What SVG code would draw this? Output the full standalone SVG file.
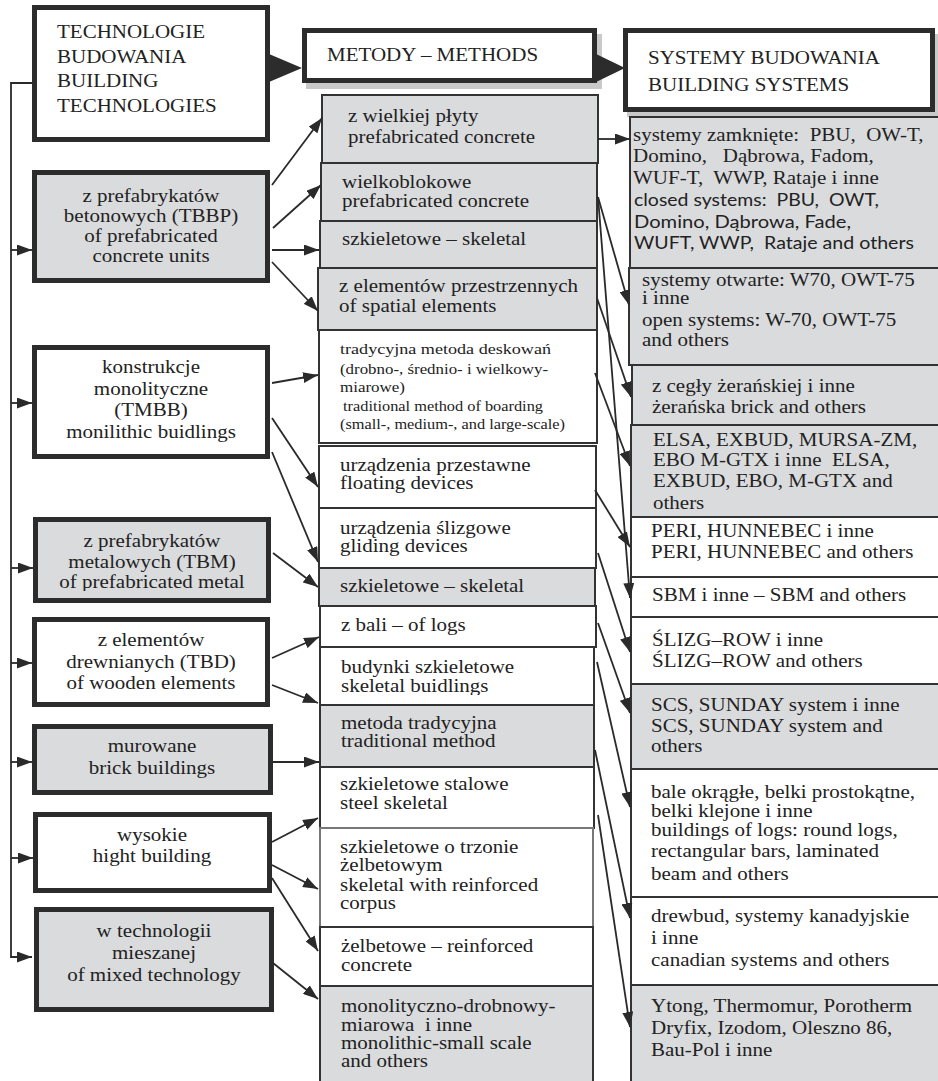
<svg xmlns="http://www.w3.org/2000/svg" width="938" height="1081" viewBox="0 0 938 1081">
<style>
.bg{fill:#ffffff}
.thick{stroke:#2c2c2c;stroke-width:5;fill:#ffffff}
.thick.g{fill:#dadbdd}
.thin{stroke:#333333;stroke-width:2;fill:#ffffff}
.thin.g{fill:#dadbdd}
.t{font-family:"Liberation Serif","Times New Roman",serif;font-size:21px;fill:#222222}
.c{text-anchor:middle}
.s{font-family:Lato,"Open Sans",sans-serif;font-size:19px;fill:#222222}
.k{font-family:"Liberation Serif",serif;font-size:18px;fill:#222222}
.t,.s,.k{transform-box:fill-box;transform-origin:center;transform:scaleY(0.86)}
.ln{stroke:#2a2a2a;stroke-width:1.8;fill:none}
.shadow{fill:#c9c9c9}
</style>
<defs>
<marker id="ah" viewBox="0 0 15 11" refX="15" refY="5.5" markerWidth="15" markerHeight="11" markerUnits="userSpaceOnUse" orient="auto">
<path d="M0,0 L15,5.5 L0,11 z" fill="#2a2a2a"/>
</marker>
<clipPath id="clipMetal"><rect x="36" y="522" width="230" height="69"/></clipPath>
<clipPath id="clipM10"><rect x="321" y="648" width="272" height="47"/></clipPath>
</defs>
<rect class="bg" x="0" y="0" width="938" height="1081"/>

<!-- header shadows -->
<rect class="shadow" x="306" y="34" width="296" height="55"/>
<rect class="shadow" x="627" y="34" width="311" height="83"/>

<!-- Header nodes -->
<g id="n-technologie">
<rect class="thick" x="34.5" y="7.5" width="233" height="132"/>
<text class="t" x="57" y="39">TECHNOLOGIE</text>
<text class="t" x="57" y="64">BUDOWANIA</text>
<text class="t" x="57" y="88">BUILDING</text>
<text class="t" x="57" y="113">TECHNOLOGIES</text>
</g>
<g id="n-metody">
<rect class="thick" x="304.5" y="30.5" width="290" height="50"/>
<text class="t" x="327" y="62">METODY – METHODS</text>
</g>
<g id="n-systemy">
<rect class="thick" x="625.5" y="30.5" width="307" height="79"/>
<text class="t" x="648" y="65">SYSTEMY BUDOWANIA</text>
<text class="t" x="648" y="92">BUILDING SYSTEMS</text>
</g>

<!-- Left column -->
<g id="n-tbbp">
<rect class="thick g" x="34.5" y="172.5" width="233" height="108"/>
<text class="t c" x="151" y="203">z prefabrykatów</text>
<text class="t c" x="151" y="223">betonowych (TBBP)</text>
<text class="t c" x="151" y="243">of prefabricated</text>
<text class="t c" x="151" y="263">concrete units</text>
</g>
<g id="n-tmbb">
<rect class="thick" x="34.5" y="347.5" width="233" height="109"/>
<text class="t c" x="151" y="374">konstrukcje</text>
<text class="t c" x="151" y="396">monolityczne</text>
<text class="t c" x="151" y="417">(TMBB)</text>
<text class="t c" x="151" y="439">monilithic buidlings</text>
</g>
<g id="n-tbm">
<rect class="thick g" x="35.5" y="519.5" width="233" height="81"/>
<g clip-path="url(#clipMetal)">
<text class="t c" x="152" y="548">z prefabrykatów</text>
<text class="t c" x="152" y="569">metalowych (TBM)</text>
<text class="t c" x="152" y="589">of prefabricated metal</text>
</g>
</g>
<g id="n-tbd">
<rect class="thick" x="34.5" y="619.5" width="233" height="85"/>
<text class="t c" x="151" y="647">z elementów</text>
<text class="t c" x="151" y="669">drewnianych (TBD)</text>
<text class="t c" x="151" y="690">of wooden elements</text>
</g>
<g id="n-murowane">
<rect class="thick g" x="34.5" y="726.5" width="236" height="66"/>
<text class="t c" x="152" y="753">murowane</text>
<text class="t c" x="152" y="775">brick buildings</text>
</g>
<g id="n-wysokie">
<rect class="thick" x="35.5" y="814.5" width="234" height="76"/>
<text class="t c" x="152" y="842">wysokie</text>
<text class="t c" x="152" y="863">hight building</text>
</g>
<g id="n-mieszana">
<rect class="thick g" x="36.5" y="909.5" width="235" height="100"/>
<text class="t c" x="154" y="938">w technologii</text>
<text class="t c" x="154" y="960">mieszanej</text>
<text class="t c" x="154" y="982">of mixed technology</text>
</g>

<!-- Middle column -->
<g id="m-plyta">
<rect class="thin g" x="322" y="95" width="276" height="68"/>
<text class="t" x="348" y="123">z wielkiej płyty</text>
<text class="t" x="348" y="144">prefabricated concrete</text>
</g>
<g id="m-wielkoblokowe">
<rect class="thin g" x="321" y="163" width="276" height="58"/>
<text class="t" x="342" y="189">wielkoblokowe</text>
<text class="t" x="342" y="208">prefabricated concrete</text>
</g>
<g id="m-szkiel1">
<rect class="thin g" x="320" y="221" width="277" height="47"/>
<text class="t" x="342" y="246">szkieletowe – skeletal</text>
</g>
<g id="m-przestrzenne">
<rect class="thin g" x="318" y="268" width="279" height="62"/>
<text class="t" x="339" y="293">z elementów przestrzennych</text>
<text class="t" x="339" y="313">of spatial elements</text>
</g>
<g id="m-deskowania">
<rect class="thin" x="319" y="330" width="278" height="113"/>
<text class="k" x="340" y="355" textLength="211" lengthAdjust="spacingAndGlyphs">tradycyjna metoda deskowań</text>
<text class="k" x="340" y="375" textLength="208" lengthAdjust="spacingAndGlyphs">(drobno-, średnio- i wielkowy-</text>
<text class="k" x="340" y="393" textLength="65" lengthAdjust="spacingAndGlyphs">miarowe)</text>
<text class="k" x="343" y="412" textLength="200" lengthAdjust="spacingAndGlyphs">traditional method of boarding</text>
<text class="k" x="340" y="430" textLength="225" lengthAdjust="spacingAndGlyphs">(small-, medium-, and large-scale)</text>
</g>
<g id="m-przestawne">
<rect class="thin" x="319" y="446" width="277" height="62"/>
<text class="t" x="340" y="472">urządzenia przestawne</text>
<text class="t" x="340" y="490">floating devices</text>
</g>
<g id="m-slizgowe">
<rect class="thin" x="319" y="508" width="277" height="60"/>
<text class="t" x="340" y="535">urządzenia ślizgowe</text>
<text class="t" x="340" y="553">gliding devices</text>
</g>
<g id="m-szkiel2">
<rect class="thin g" x="319" y="568" width="276" height="38"/>
<text class="t" x="340" y="593">szkieletowe – skeletal</text>
</g>
<g id="m-bali">
<rect class="thin" x="320" y="606" width="276" height="41"/>
<text class="t" x="341" y="632">z bali – of logs</text>
</g>
<g id="m-budynki">
<rect class="thin" x="320" y="647" width="274" height="58"/>
<g clip-path="url(#clipM10)">
<text class="t" x="341" y="674">budynki szkieletowe</text>
<text class="t" x="341" y="693">skeletal buidlings</text>
</g>
</g>
<g id="m-tradycyjna">
<rect class="thin g" x="320" y="705" width="274" height="62"/>
<text class="t" x="341" y="730">metoda tradycyjna</text>
<text class="t" x="341" y="748">traditional method</text>
</g>
<g id="m-stalowe">
<rect class="thin" x="320" y="767" width="274" height="61"/>
<text class="t" x="340" y="791">szkieletowe stalowe</text>
<text class="t" x="340" y="810">steel skeletal</text>
</g>
<g id="m-trzon">
<rect x="320" y="828" width="273" height="99" fill="#ffffff" stroke="#777777" stroke-width="2"/>
<text class="t" x="340" y="854">szkieletowe o trzonie</text>
<text class="t" x="340" y="872">żelbetowym</text>
<text class="t" x="340" y="892">skeletal with reinforced</text>
<text class="t" x="340" y="910">corpus</text>
</g>
<g id="m-zelbetowe">
<rect class="thin" x="320" y="927" width="273" height="59"/>
<text class="t" x="341" y="953">żelbetowe – reinforced</text>
<text class="t" x="341" y="972">concrete</text>
</g>
<g id="m-monolityczno">
<rect class="thin g" x="320" y="986" width="273" height="110"/>
<text class="t" x="341" y="1013">monolityczno-drobnowy-</text>
<text class="t" x="341" y="1032" xml:space="preserve">miarowa  i inne</text>
<text class="t" x="341" y="1050">monolithic-small scale</text>
<text class="t" x="341" y="1068">and others</text>
</g>

<!-- Right column -->
<g id="r-zamkniete">
<rect class="thin g" x="630" y="117" width="310" height="151"/>
<text class="t" x="633" y="142" xml:space="preserve">systemy zamknięte:  PBU,  OW-T,</text>
<text class="t" x="633" y="163" xml:space="preserve">Domino,   Dąbrowa, Fadom,</text>
<text class="t" x="633" y="185" xml:space="preserve">WUF-T,  WWP, Rataje i inne</text>
<text class="s" x="634" y="207" textLength="245" lengthAdjust="spacingAndGlyphs" xml:space="preserve">closed systems:  PBU,  OWT,</text>
<text class="s" x="634" y="229" textLength="217" lengthAdjust="spacingAndGlyphs">Domino, Dąbrowa, Fade,</text>
<text class="s" x="634" y="250" textLength="280" lengthAdjust="spacingAndGlyphs" xml:space="preserve">WUFT, WWP,  Rataje and others</text>
</g>
<g id="r-otwarte">
<rect class="thin g" x="629" y="268" width="311" height="97"/>
<text class="t" x="642" y="287">systemy otwarte: W70, OWT-75</text>
<text class="t" x="642" y="305">i inne</text>
<text class="t" x="642" y="327">open systems: W-70, OWT-75</text>
<text class="t" x="642" y="347">and others</text>
</g>
<g id="r-cegla">
<rect class="thin g" x="632" y="365" width="308" height="60"/>
<text class="t" x="652" y="393">z cegły żerańskiej i inne</text>
<text class="t" x="652" y="414">żerańska brick and others</text>
</g>
<g id="r-elsa">
<rect class="thin g" x="631" y="425" width="309" height="92"/>
<text class="t" x="653" y="447">ELSA, EXBUD, MURSA-ZM,</text>
<text class="t" x="653" y="467" xml:space="preserve">EBO M-GTX i inne  ELSA,</text>
<text class="t" x="653" y="488">EXBUD, EBO, M-GTX and</text>
<text class="t" x="653" y="510">others</text>
</g>
<g id="r-peri">
<rect class="thin" x="631" y="517" width="309" height="60"/>
<text class="t" x="651" y="538">PERI, HUNNEBEC i inne</text>
<text class="t" x="651" y="559">PERI, HUNNEBEC and others</text>
</g>
<g id="r-sbm">
<rect class="thin" x="631" y="577" width="309" height="40"/>
<text class="t" x="652" y="602">SBM i inne – SBM and others</text>
</g>
<g id="r-slizg">
<rect class="thin" x="631" y="617" width="309" height="67"/>
<text class="t" x="652" y="647">ŚLIZG–ROW i inne</text>
<text class="t" x="652" y="668">ŚLIZG–ROW and others</text>
</g>
<g id="r-scs">
<rect class="thin g" x="631" y="684" width="309" height="85"/>
<text class="t" x="651" y="712">SCS, SUNDAY system i inne</text>
<text class="t" x="651" y="733">SCS, SUNDAY system and</text>
<text class="t" x="651" y="753">others</text>
</g>
<g id="r-bale">
<rect class="thin" x="631" y="769" width="309" height="128"/>
<text class="t" x="651" y="799">bale okrągłe, belki prostokątne,</text>
<text class="t" x="651" y="818">belki klejone i inne</text>
<text class="t" x="651" y="837">buildings of logs: round logs,</text>
<text class="t" x="651" y="858">rectangular bars, laminated</text>
<text class="t" x="651" y="881">beam and others</text>
</g>
<g id="r-drewbud">
<rect class="thin" x="631" y="897" width="309" height="88"/>
<text class="t" x="651" y="923">drewbud, systemy kanadyjskie</text>
<text class="t" x="651" y="945">i inne</text>
<text class="t" x="651" y="967">canadian systems and others</text>
</g>
<g id="r-ytong">
<rect class="thin g" x="631" y="985" width="309" height="110"/>
<text class="t" x="651" y="1013">Ytong, Thermomur, Porotherm</text>
<text class="t" x="651" y="1035">Dryfix, Izodom, Oleszno 86,</text>
<text class="t" x="651" y="1057">Bau-Pol i inne</text>
</g>

<!-- Connectors -->
<g id="connectors">
<polygon points="269,54 302,68 269,82" fill="#2c2c2c"/>
<polygon points="594,53 625,68 594,83" fill="#2c2c2c"/>
<path class="ln" d="M32,83 H11 V957 H32" marker-end="url(#ah)"/>
<line class="ln" x1="11" y1="250" x2="32" y2="250" marker-end="url(#ah)"/>
<line class="ln" x1="11" y1="403" x2="32" y2="403" marker-end="url(#ah)"/>
<line class="ln" x1="11" y1="568" x2="33" y2="568" marker-end="url(#ah)"/>
<line class="ln" x1="11" y1="663" x2="32" y2="663" marker-end="url(#ah)"/>
<line class="ln" x1="11" y1="762" x2="32" y2="762" marker-end="url(#ah)"/>
<line class="ln" x1="11" y1="858" x2="33" y2="858" marker-end="url(#ah)"/>

<line class="ln" x1="272" y1="185" x2="322" y2="118" marker-end="url(#ah)"/>
<line class="ln" x1="273" y1="228" x2="321" y2="185" marker-end="url(#ah)"/>
<line class="ln" x1="272" y1="250" x2="319" y2="250" marker-end="url(#ah)"/>
<line class="ln" x1="272" y1="262" x2="318" y2="311" marker-end="url(#ah)"/>
<line class="ln" x1="272" y1="383" x2="318" y2="375" marker-end="url(#ah)"/>
<line class="ln" x1="272" y1="418" x2="318" y2="487" marker-end="url(#ah)"/>
<line class="ln" x1="272" y1="452" x2="318" y2="562" marker-end="url(#ah)"/>
<line class="ln" x1="273" y1="553" x2="318" y2="587" marker-end="url(#ah)"/>
<line class="ln" x1="272" y1="658" x2="319" y2="637" marker-end="url(#ah)"/>
<line class="ln" x1="272" y1="685" x2="318" y2="703" marker-end="url(#ah)"/>
<line class="ln" x1="273" y1="762" x2="319" y2="762" marker-end="url(#ah)"/>
<line class="ln" x1="272" y1="842" x2="318" y2="818" marker-end="url(#ah)"/>
<line class="ln" x1="272" y1="865" x2="318" y2="889" marker-end="url(#ah)"/>
<line class="ln" x1="272" y1="878" x2="318" y2="951" marker-end="url(#ah)"/>
<line class="ln" x1="273" y1="963" x2="318" y2="999" marker-end="url(#ah)"/>

<line class="ln" x1="598" y1="139" x2="630" y2="139" marker-end="url(#ah)"/>
<line class="ln" x1="598" y1="197" x2="629" y2="305" marker-end="url(#ah)"/>
<line class="ln" x1="598" y1="197" x2="630" y2="598" marker-end="url(#ah)"/>
<line class="ln" x1="597" y1="298" x2="631" y2="397" marker-end="url(#ah)"/>
<line class="ln" x1="595" y1="373" x2="630" y2="466" marker-end="url(#ah)"/>
<line class="ln" x1="595" y1="490" x2="630" y2="547" marker-end="url(#ah)"/>
<line class="ln" x1="598" y1="553" x2="630" y2="652" marker-end="url(#ah)"/>
<line class="ln" x1="598" y1="623" x2="630" y2="713" marker-end="url(#ah)"/>
<line class="ln" x1="597" y1="662" x2="630" y2="807" marker-end="url(#ah)"/>
<line class="ln" x1="595" y1="750" x2="630" y2="918" marker-end="url(#ah)"/>
<line class="ln" x1="598" y1="815" x2="630" y2="1027" marker-end="url(#ah)"/>
</g>
</svg>
